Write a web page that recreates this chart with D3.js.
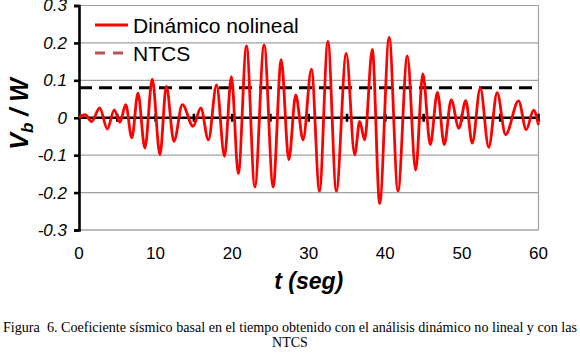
<!DOCTYPE html>
<html>
<head>
<meta charset="utf-8">
<script src="https://cdn.jsdelivr.net/npm/d3@7"></script>
<style>
  body { margin: 0; background: #fff; }
  svg { display: block; }
  .sans { font-family: Arial, 'Liberation Sans', sans-serif; }
  .serif { font-family: 'Liberation Serif', 'Times New Roman', serif; }
</style>
</head>
<body>
<div id="chart"></div>
<script>
// tiempo (s) de cada pico / valle
const tiempos = [0, 0.8, 1.65, 2.7, 3.7, 4.6, 5.35, 6.1, 6.9, 7.7,
  8.6, 9.57, 10.57, 11.4, 12.4, 13.5, 14.9, 15.9, 16.9, 17.96,
  19.0, 19.9, 20.8, 21.87, 22.96, 24.17, 25.35, 26.4, 27.4, 28.3,
  29.26, 30.35, 31.4, 32.5, 33.6, 34.9, 36.0, 36.65, 37.3, 38.3,
  39.26, 40.5, 41.65, 42.87, 43.96, 44.9, 45.87, 46.8, 47.7, 48.6,
  49.6, 50.5, 51.35, 52.4, 53.5, 54.6, 55.7, 57.4, 58.4, 59.35, 60]
// Vb/W dinamico no lineal
const vbw = [0, 0.008, -0.01, 0.026, -0.03, 0.021, -0.012, 0.035, -0.054, 0.066,
  -0.081, 0.103, -0.099, 0.084, -0.063, 0.035, -0.023, 0.026, -0.059, 0.088,
  -0.103, 0.11, -0.149, 0.192, -0.185, 0.195, -0.185, 0.155, -0.112, 0.061,
  -0.059, 0.13, -0.196, 0.204, -0.196, 0.172, -0.099, -0.01, -0.059, 0.183,
  -0.229, 0.215, -0.196, 0.165, -0.14, 0.117, -0.072, 0.068, -0.072, 0.048,
  -0.028, 0.046, -0.068, 0.079, -0.079, 0.067, -0.045, 0.045, -0.032, 0.02, -0.019]
// limite NTCS
const ntcs = 0.08

const xTicks = [0, 10, 20, 30, 40, 50, 60]
const xMinor = d3.range(0, 61, 5)
const yTicks = [-0.3, -0.2, -0.1, 0, 0.1, 0.2, 0.3]
const yLabels = ['-0.3', '-0.2', '-0.1', '0', '0.1', '0.2', '0.3']

const width = 580
const height = 356
const margin = {top: 5.5, right: 41.5, bottom: 126, left: 79}

const svg = d3.select('#chart').append('svg')
  .attr('width', width)
  .attr('height', height)

const x = d3.scaleLinear().domain([0, 60]).range([margin.left, width - margin.right])
const y = d3.scaleLinear().domain([-0.3, 0.3]).range([height - margin.bottom, margin.top])

// rejilla
svg.append('g')
  .selectAll('line')
  .data(yTicks.filter((d) => d !== 0))
  .join('line')
  .attr('x1', x(0))
  .attr('x2', x(60))
  .attr('y1', (d) => y(d))
  .attr('y2', (d) => y(d))
  .attr('stroke', (d) => (d === -0.3 ? '#777' : '#a0a0a0'))
  .attr('stroke-width', 1.2)

// borde derecho
svg.append('line')
  .attr('x1', x(60)).attr('x2', x(60))
  .attr('y1', y(0.3)).attr('y2', y(-0.3))
  .attr('stroke', '#a0a0a0')
  .attr('stroke-width', 1.2)

// eje Y
const yAxis = svg.append('g')
  .attr('class', 'sans')
  .attr('transform', `translate(${x(0)},0)`)
  .call(d3.axisLeft(y).tickValues(yTicks).tickSize(5).tickPadding(7)
    .tickFormat((d, i) => yLabels[i]))
yAxis.select('.domain').attr('stroke', '#000').attr('stroke-width', 2.6)
yAxis.selectAll('.tick line').attr('stroke-width', 2.6)
yAxis.selectAll('text')
  .attr('font-size', 17)
  .attr('font-style', 'italic')
  .attr('fill', '#000')

// etiquetas eje X
svg.append('g')
  .attr('class', 'sans')
  .selectAll('text')
  .data(xTicks)
  .join('text')
  .attr('x', (d) => x(d))
  .attr('y', 259)
  .attr('text-anchor', 'middle')
  .attr('font-size', 17)
  .text((d) => d)

// limite NTCS
svg.append('line')
  .attr('x1', x(0)).attr('x2', x(60))
  .attr('y1', y(ntcs)).attr('y2', y(ntcs))
  .attr('stroke', '#000')
  .attr('stroke-width', 3)
  .attr('stroke-dasharray', '13 7')

// eje X en cero
const xAxis = svg.append('g')
  .attr('transform', `translate(0,${y(0)})`)
xAxis.append('line')
  .attr('x1', x(0)).attr('x2', x(60))
  .attr('stroke', '#000')
  .attr('stroke-width', 2.6)
xAxis.selectAll('line.tick')
  .data(xMinor.slice(1))
  .join('line')
  .attr('class', 'tick')
  .attr('x1', (d) => x(d)).attr('x2', (d) => x(d))
  .attr('y1', -4).attr('y2', 4)
  .attr('stroke', '#000')
  .attr('stroke-width', 2.6)

// serie dinamica
const line = d3.line()
  .x((d, i) => x(tiempos[i]))
  .y((d) => y(d))
  .curve(d3.curveMonotoneX)

svg.append('path')
  .datum(vbw)
  .attr('d', line)
  .attr('fill', 'none')
  .attr('stroke', '#ff0000')
  .attr('stroke-width', 2.8)
  .attr('stroke-linejoin', 'round')

// leyenda
const legend = svg.append('g').attr('class', 'sans')
legend.append('line')
  .attr('x1', 95).attr('x2', 128).attr('y1', 25).attr('y2', 25)
  .attr('stroke', '#ff0000').attr('stroke-width', 2.8)
legend.append('text')
  .attr('x', 133).attr('y', 33)
  .attr('font-size', 21)
  .text('Dinámico nolineal')
legend.append('line')
  .attr('x1', 95).attr('x2', 128).attr('y1', 53).attr('y2', 53)
  .attr('stroke', '#b55555').attr('stroke-width', 3)
  .attr('stroke-dasharray', '10 8')
legend.append('text')
  .attr('x', 133).attr('y', 61)
  .attr('font-size', 21)
  .text('NTCS')

// titulos de ejes
svg.append('text')
  .attr('class', 'sans')
  .attr('x', (x(0) + x(60)) / 2)
  .attr('y', 289)
  .attr('text-anchor', 'middle')
  .attr('font-size', 23)
  .attr('font-weight', 'bold')
  .attr('font-style', 'italic')
  .text('t (seg)')

const yTitle = svg.append('text')
  .attr('class', 'sans')
  .attr('transform', 'translate(28,114) rotate(-90)')
  .attr('text-anchor', 'middle')
  .attr('font-size', 25)
  .attr('font-weight', 'bold')
  .attr('font-style', 'italic')
yTitle.append('tspan').text('V')
yTitle.append('tspan').attr('font-size', 17).attr('dy', 5).text('b')
yTitle.append('tspan').attr('dy', -5).text(' / W')

// pie de figura
const caption = svg.append('g').attr('class', 'serif').attr('font-size', 14)
caption.append('text')
  .attr('x', 3).attr('y', 332)
  .attr('textLength', 574)
  .attr('lengthAdjust', 'spacingAndGlyphs')
  .text('Figura \u00a06. Coeficiente sísmico basal en el tiempo obtenido con el análisis dinámico no lineal y con las')
caption.append('text')
  .attr('x', 290).attr('y', 347)
  .attr('text-anchor', 'middle')
  .text('NTCS')
</script>
</body>
</html>
